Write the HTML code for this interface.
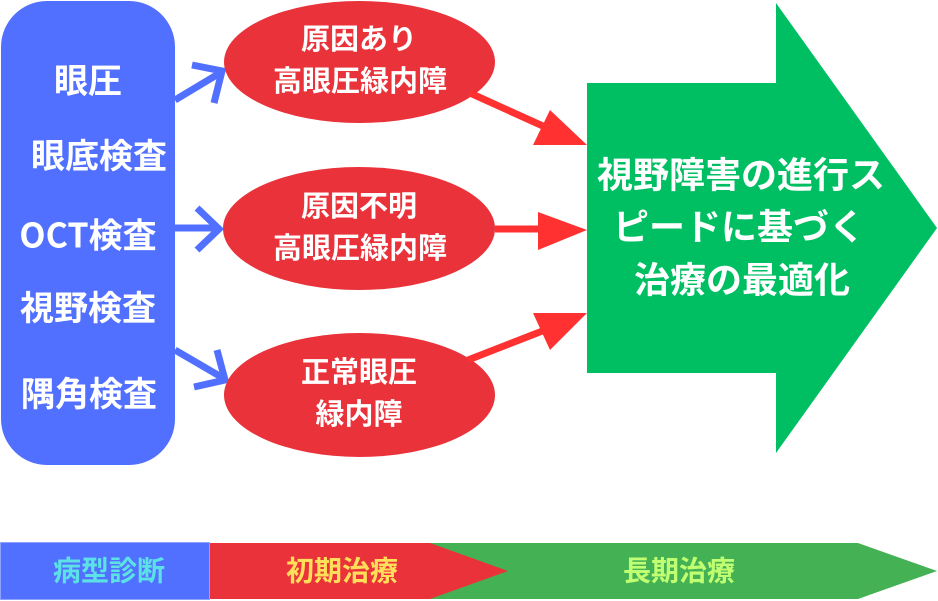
<!DOCTYPE html>
<html>
<head>
<meta charset="utf-8">
<style>
html,body{margin:0;padding:0;background:#fff;}
svg{display:block;}
text{font-family:"Liberation Sans","Noto Sans CJK JP",sans-serif;font-weight:700;}
text.cjk{font-family:"Noto Sans CJK JP","Liberation Sans",sans-serif;}
</style>
</head>
<body>
<svg width="938" height="601" viewBox="0 0 938 601" xmlns="http://www.w3.org/2000/svg">
  <!-- Blue box -->
  <rect x="1" y="1" width="174" height="464" rx="46" ry="46" fill="#5170ff"/>
  <g fill="#ffffff" font-size="34" dominant-baseline="central" text-anchor="middle">
    <text x="88" y="82" dominant-baseline="central">眼圧</text>
    <text x="99" y="157" dominant-baseline="central">眼底検査</text>
    <text class="cjk" x="88" y="233" dominant-baseline="central">OCT検査</text>
    <text x="88" y="309" dominant-baseline="central">視野検査</text>
    <text x="89" y="395" dominant-baseline="central">隅角検査</text>
  </g>

  <!-- Blue arrows -->
  <g stroke="#5170ff" stroke-width="7" fill="none" stroke-linejoin="miter">
    <line x1="175" y1="100" x2="220" y2="73"/>
    <polyline points="192,65 222,71 214,103"/>
    <line x1="175" y1="228" x2="219" y2="228"/>
    <polyline points="197,208 219,229 197,250"/>
    <line x1="175" y1="350" x2="223" y2="378"/>
    <polyline points="217,350 225,380 194,387"/>
  </g>

  <!-- Red ellipses -->
  <g fill="#e9323a">
    <ellipse cx="359.5" cy="62" rx="135.5" ry="61"/>
    <ellipse cx="359" cy="228.5" rx="136" ry="61.5"/>
    <ellipse cx="359.5" cy="395" rx="135.5" ry="62"/>
  </g>
  <g fill="#ffffff" font-size="29" text-anchor="middle">
    <text x="359" y="40" dominant-baseline="central">原因あり</text>
    <text x="360" y="82" dominant-baseline="central">高眼圧緑内障</text>
    <text x="359" y="207" dominant-baseline="central">原因不明</text>
    <text x="360" y="249" dominant-baseline="central">高眼圧緑内障</text>
    <text x="359" y="373" dominant-baseline="central">正常眼圧</text>
    <text x="359" y="415" dominant-baseline="central">緑内障</text>
  </g>

  <!-- Red arrows -->
  <g stroke="#ff3131" stroke-width="7">
    <line x1="470" y1="93" x2="545" y2="127"/>
    <line x1="495" y1="229" x2="545" y2="229"/>
    <line x1="468" y1="360" x2="545" y2="330"/>
  </g>
  <g fill="#ff3131">
    <polygon points="587,145 533,145 550,110"/>
    <polygon points="587,230 538,212 538,250"/>
    <polygon points="587,313 533,313 550,350"/>
  </g>

  <!-- Green big arrow -->
  <polygon points="587,83 776,83 776,3 937,228 776,453 776,373 587,373" fill="#00bf63"/>
  <g fill="#ffffff" font-size="36" text-anchor="middle">
    <text x="741" y="175" dominant-baseline="central">視野障害の進行ス</text>
    <text x="739" y="227" dominant-baseline="central">ピードに基づく</text>
    <text x="742" y="280" dominant-baseline="central">治療の最適化</text>
  </g>

  <!-- Bottom bar -->
  <polygon points="420,543 858,543 937,571 858,599 420,599" fill="#44b254"/>
  <polygon points="209,543 430,543 508,571 430,599 209,599" fill="#e9323a"/>
  <rect x="0.5" y="542.5" width="209" height="57" fill="#5170ff" stroke="#8ea2ff" stroke-width="1"/>
  <g font-size="28" text-anchor="middle">
    <text x="109" y="571" fill="#5ce1e6" dominant-baseline="central">病型診断</text>
    <text x="342" y="571" fill="#ffde59" dominant-baseline="central">初期治療</text>
    <text x="679" y="571" fill="#c1ff72" dominant-baseline="central">長期治療</text>
  </g>
</svg>
</body>
</html>
